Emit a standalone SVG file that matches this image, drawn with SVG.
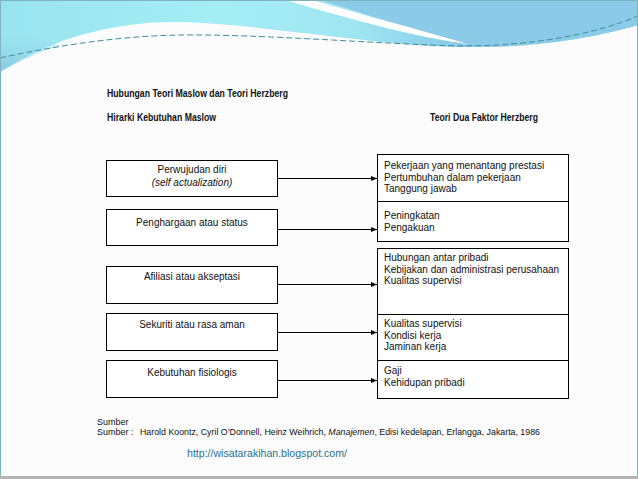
<svg xmlns="http://www.w3.org/2000/svg" width="638" height="479" viewBox="0 0 638 479">
<defs>
<linearGradient id="band" x1="0" y1="0" x2="1" y2="0">
<stop offset="0" stop-color="#97e3ef"/>
<stop offset="0.35" stop-color="#a5eef6"/>
<stop offset="0.55" stop-color="#a0e6f2"/>
<stop offset="0.7" stop-color="#8ccde9"/>
<stop offset="1" stop-color="#84c4e4"/>
</linearGradient>
<linearGradient id="leftshade" x1="0" y1="0" x2="0" y2="1">
<stop offset="0" stop-color="#a5eef6" stop-opacity="0"/>
<stop offset="1" stop-color="#86c3da" stop-opacity="0.8"/>
</linearGradient>
<marker id="arr" markerUnits="userSpaceOnUse" markerWidth="6" markerHeight="6" refX="6" refY="3" orient="auto">
<path d="M0,0.5 L6,3 L0,5.5 Z" fill="#000"/>
</marker>
<style>
.box{fill:#fff;stroke:#000;stroke-width:1}
.t{font-family:"Liberation Sans",Arial,sans-serif;font-size:10px;fill:#111}
.c{text-anchor:middle}
.h{font-family:"Liberation Sans Narrow","Liberation Sans",Arial,sans-serif;font-size:10px;font-weight:bold;fill:#111}
.src{font-family:"Liberation Sans",Arial,sans-serif;font-size:9px;fill:#111}
.url{font-family:"Liberation Sans",Arial,sans-serif;font-size:11px;fill:#2b7189}
.conn{stroke:#000;stroke-width:1;fill:none}
</style>
</defs>
<rect x="0" y="0" width="638" height="479" fill="#fcfcfc"/>
<!-- header decoration -->
<path d="M0,0 H638 V25 C600,36 540,48 460,47 C380,46 260,24 180,22 C130,21 60,32 0,72 Z" fill="url(#band)"/>
<path d="M0,20 C20,30 40,40 60,45 C40,52 20,60 0,72 Z" fill="url(#leftshade)"/>
<path d="M320,0 H638 V25 C600,36 540,48 470,47 C440,40 400,24 320,0 Z" fill="#8ccbe8"/>
<path d="M285,0 L312,0 C360,14 420,30 468,44 C420,38 360,22 285,0 Z" fill="#ffffff"/>
<path d="M0,58 C60,45 120,36 180,35 C260,34 380,44 460,46 C540,46 600,32 638,16" fill="none" stroke="#3f8d9c" stroke-width="1" stroke-dasharray="6 3"/>
<rect x="0.5" y="0.5" width="637" height="477" fill="none" stroke="#7fb3bf" stroke-width="1"/>
<rect x="0" y="476" width="638" height="3" fill="#b5b5b5"/>

<!-- titles -->
<text class="h" x="107" y="97" textLength="181" lengthAdjust="spacingAndGlyphs">Hubungan Teori Maslow dan Teori Herzberg</text>
<text class="h" x="107" y="121" textLength="109" lengthAdjust="spacingAndGlyphs">Hirarki Kebutuhan Maslow</text>
<text class="h" x="430" y="121" textLength="108" lengthAdjust="spacingAndGlyphs">Teori Dua Faktor Herzberg</text>

<!-- Maslow nodes -->
<g id="m1"><rect class="box" x="106.5" y="160.5" width="171" height="36"/>
<text class="t c" x="192" y="173">Perwujudan diri</text>
<text class="t c" x="192" y="186" font-style="italic">(self actualization)</text></g>
<g id="m2"><rect class="box" x="106.5" y="209.5" width="171" height="36"/>
<text class="t c" x="192" y="226">Penghargaan atau status</text></g>
<g id="m3"><rect class="box" x="106.5" y="266.5" width="171" height="37"/>
<text class="t c" x="192" y="280">Afiliasi atau akseptasi</text></g>
<g id="m4"><rect class="box" x="106.5" y="313.5" width="171" height="37"/>
<text class="t c" x="192" y="328">Sekuriti atau rasa aman</text></g>
<g id="m5"><rect class="box" x="106.5" y="360.5" width="171" height="37"/>
<text class="t c" x="192" y="376">Kebutuhan fisiologis</text></g>

<!-- Herzberg nodes -->
<g id="h1"><rect class="box" x="377.5" y="154.5" width="191" height="47"/>
<text class="t" x="384" y="169">Pekerjaan yang menantang prestasi</text>
<text class="t" x="384" y="180.5">Pertumbuhan dalam pekerjaan</text>
<text class="t" x="384" y="192">Tanggung jawab</text></g>
<g id="h2"><rect class="box" x="377.5" y="201.5" width="191" height="40"/>
<text class="t" x="384" y="219">Peningkatan</text>
<text class="t" x="384" y="230.5">Pengakuan</text></g>
<g id="h3"><rect class="box" x="377.5" y="248.5" width="191" height="66"/>
<text class="t" x="384" y="261">Hubungan antar pribadi</text>
<text class="t" x="384" y="273">Kebijakan dan administrasi perusahaan</text>
<text class="t" x="384" y="284">Kualitas supervisi</text></g>
<g id="h4"><rect class="box" x="377.5" y="314.5" width="191" height="46"/>
<text class="t" x="384" y="327">Kualitas supervisi</text>
<text class="t" x="384" y="339">Kondisi kerja</text>
<text class="t" x="384" y="350">Jaminan kerja</text></g>
<g id="h5"><rect class="box" x="377.5" y="360.5" width="191" height="38"/>
<text class="t" x="384" y="374">Gaji</text>
<text class="t" x="384" y="386">Kehidupan pribadi</text></g>

<!-- connectors -->
<g id="connectors">
<line class="conn" x1="278" y1="178.5" x2="377" y2="178.5" marker-end="url(#arr)"/>
<line class="conn" x1="278" y1="229.5" x2="377" y2="229.5" marker-end="url(#arr)"/>
<line class="conn" x1="278" y1="284.5" x2="377" y2="284.5" marker-end="url(#arr)"/>
<line class="conn" x1="278" y1="332.5" x2="377" y2="332.5" marker-end="url(#arr)"/>
<line class="conn" x1="278" y1="380.5" x2="377" y2="380.5" marker-end="url(#arr)"/>
</g>

<!-- source -->
<text class="src" x="97" y="425">Sumber</text>
<text class="src" x="97" y="435">Sumber :</text>
<text class="src" x="140" y="435" textLength="400" lengthAdjust="spacingAndGlyphs">Harold Koontz, Cyril O’Donnell, Heinz Weihrich, <tspan font-style="italic">Manajemen</tspan>, Edisi kedelapan, Erlangga, Jakarta, 1986</text>
<text class="url" x="187" y="457" textLength="160" lengthAdjust="spacingAndGlyphs">http://wisatarakihan.blogspot.com/</text>
</svg>
